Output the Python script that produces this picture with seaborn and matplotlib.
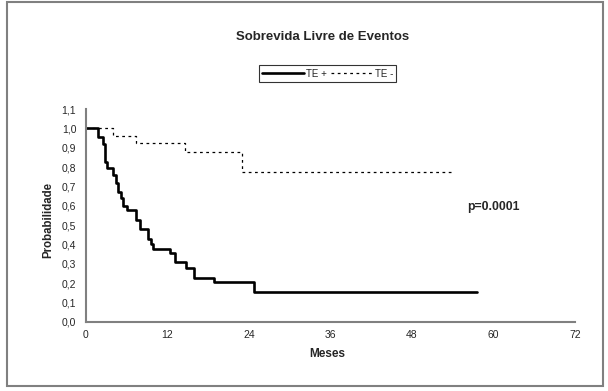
import numpy as np
import pandas as pd
import matplotlib
matplotlib.use("Agg")
import matplotlib.pyplot as plt
import seaborn as sns
from matplotlib.patches import Rectangle

# Curva TE + (meses, probabilidade)
te_pos_meses = [0, 1.8, 2.45, 2.8, 3.15, 4.0, 4.4, 4.75, 5.1, 5.4, 6.0,
                7.35, 7.95, 9.2, 9.6, 9.8, 12.3, 13.1, 14.8, 15.95, 18.9, 24.8, 57.5]
te_pos_prob = [1.0, 0.954, 0.919, 0.828, 0.794, 0.759, 0.716, 0.673, 0.639, 0.599, 0.578,
               0.527, 0.479, 0.429, 0.403, 0.377, 0.358, 0.31, 0.28, 0.229, 0.208, 0.153, 0.153]

# Curva TE -
te_neg_meses = [0, 4.0, 7.4, 14.6, 22.9, 54.0]
te_neg_prob = [1.0, 0.962, 0.923, 0.877, 0.776, 0.776]

x_ticks = [0, 12, 24, 36, 48, 60, 72]
y_ticks = [0.0, 0.1, 0.2, 0.3, 0.4, 0.5, 0.6, 0.7, 0.8, 0.9, 1.0, 1.1]

df_pos = pd.DataFrame({"Meses": te_pos_meses, "Probabilidade": te_pos_prob})
df_neg = pd.DataFrame({"Meses": te_neg_meses, "Probabilidade": te_neg_prob})

sns.set_style("white")
plt.rcParams['font.family'] = ['Liberation Sans', 'DejaVu Sans']

fig = plt.figure(figsize=(6.08, 3.91), dpi=100)
ax = fig.add_axes([0.1414, 0.1765, 0.8043, 0.5447])

sns.lineplot(data=df_pos, x="Meses", y="Probabilidade", ax=ax, color="black",
             linewidth=1.9, drawstyle="steps-post", estimator=None, sort=False, label="TE +")
sns.lineplot(data=df_neg, x="Meses", y="Probabilidade", ax=ax, color="black",
             linewidth=0.9, dashes=(2.2, 2.8), drawstyle="steps-post", estimator=None,
             sort=False, label="TE -")

ax.set_xlim(0, 72)
ax.set_ylim(0, 1.1)
ax.set_xticks(x_ticks)
ax.set_yticks(y_ticks)
ax.set_xticklabels([str(t) for t in x_ticks])
ax.set_yticklabels([f"{t:.1f}".replace(".", ",") for t in y_ticks])
ax.tick_params(direction="inout", length=6, width=1, color="black", labelsize=7.5, pad=3)
ax.tick_params(axis="y", pad=4)

for s in ["top", "right"]:
    ax.spines[s].set_visible(False)
for s in ["left", "bottom"]:
    ax.spines[s].set_color("#808080")
    ax.spines[s].set_linewidth(1.5)

ax.set_xlabel("")
ax.set_ylabel("")
fig.text(0.538, 0.095, "Meses", ha="center", va="center", fontsize=8.5, fontweight="bold")
fig.text(0.08, 0.437, "Probabilidade", ha="center", va="center", rotation=90,
         fontsize=8.3, fontweight="bold")
fig.text(0.53, 0.906, "Sobrevida Livre de Eventos", ha="center", va="center",
         fontsize=9.5, fontweight="bold")
ax.text(56.1, 0.594, "p=0.0001", ha="left", va="center", fontsize=8.8, fontweight="bold")

leg = ax.legend(loc="center", bbox_to_anchor=(0.539, 0.811), bbox_transform=fig.transFigure,
                ncol=2, fontsize=7, handlelength=4.3, handletextpad=0.2, columnspacing=0.4,
                frameon=True, fancybox=False, borderpad=0.35, borderaxespad=0)
leg.get_frame().set_edgecolor("black")
leg.get_frame().set_linewidth(0.8)

fig.patches.append(Rectangle((0.0115, 0.0128), 0.98, 0.982, transform=fig.transFigure,
                             fill=False, edgecolor="#808080", linewidth=1.5))

fig.savefig("out.png", dpi=100)
